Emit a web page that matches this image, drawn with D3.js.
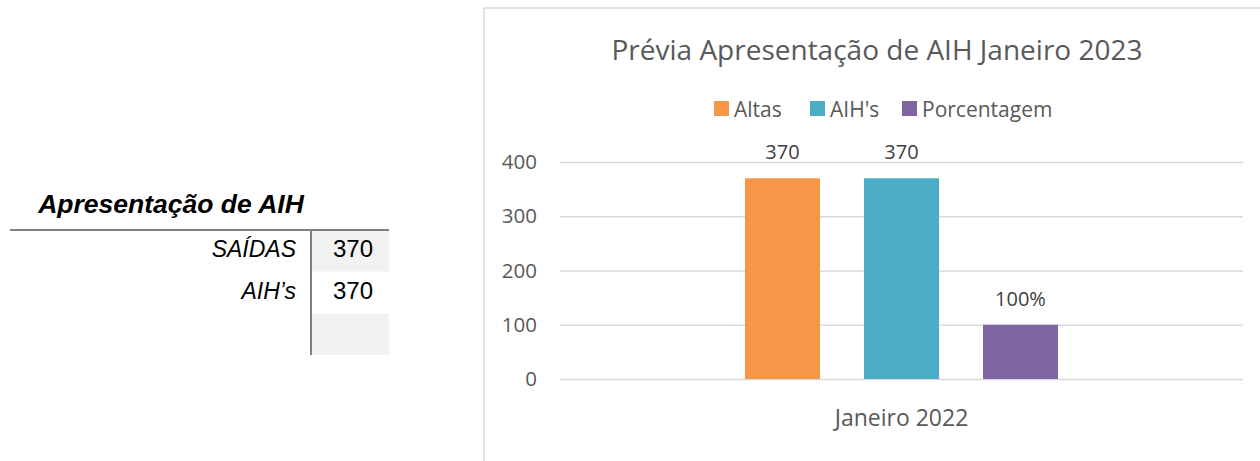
<!DOCTYPE html>
<html>
<head>
<meta charset="utf-8">
<script src="https://cdn.jsdelivr.net/npm/d3@7"></script>
<style>
  body { margin: 0; background: #fff; }
  svg { display: block; font-family: "Open Sans", sans-serif; }
</style>
</head>
<body>
<script>
//chart data
var categories = ["Janeiro 2022"];
var series = ["Altas", "AIH's", "Porcentagem"];
var values = [370, 370, 100];
var valueLabels = ["370", "370", "100%"];
var colors = ["#f79646", "#4bacc6", "#8064a2"];
var yTicks = [0, 100, 200, 300, 400];

//table data
var tableTitle = "Apresentação de AIH";
var tableRows = ["SAÍDAS", "AIH’s", ""];
var tableValues = ["370", "370", ""];

var width = 1260, height = 461;

var svg = d3.select("body").append("svg")
    .attr("width", width)
    .attr("height", height);

//---- left table ----
var tbl = svg.append("g")
    .attr("font-family", "Liberation Sans, Arial, sans-serif");

tbl.append("text")
    .attr("x", 171).attr("y", 213)
    .attr("text-anchor", "middle")
    .attr("font-size", 26.5).attr("font-weight", "bold").attr("font-style", "italic")
    .attr("fill", "#000")
    .text(tableTitle);

var rowY = d3.scaleBand().domain(d3.range(tableRows.length)).range([230, 355]);

tbl.selectAll(".cellbg")
    .data(tableRows)
    .enter().append("rect")
    .attr("x", 312).attr("width", 77)
    .attr("y", function(d, i) { return rowY(i); })
    .attr("height", rowY.bandwidth())
    .attr("fill", function(d, i) { return i % 2 == 0 ? "#f2f2f2" : "#fff"; });

tbl.selectAll(".rowlab")
    .data(tableRows)
    .enter().append("text")
    .attr("x", 296)
    .attr("y", function(d, i) { return rowY(i) + 27; })
    .attr("text-anchor", "end")
    .attr("font-size", 23).attr("font-style", "italic")
    .text(function(d) { return d; });

tbl.selectAll(".rowval")
    .data(tableValues)
    .enter().append("text")
    .attr("x", 353)
    .attr("y", function(d, i) { return rowY(i) + 27; })
    .attr("text-anchor", "middle")
    .attr("font-size", 24)
    .text(function(d) { return d; });

tbl.append("line")
    .attr("x1", 10).attr("x2", 389).attr("y1", 230).attr("y2", 230)
    .attr("stroke", "#808080").attr("stroke-width", 2);
tbl.append("line")
    .attr("x1", 311).attr("x2", 311).attr("y1", 230).attr("y2", 355)
    .attr("stroke", "#808080").attr("stroke-width", 2);

//---- chart frame ----
svg.append("rect")
    .attr("x", 484).attr("y", 8)
    .attr("width", 800).attr("height", 480)
    .attr("fill", "#fff")
    .attr("stroke", "#d9d9d9").attr("stroke-width", 1.5);

svg.append("text")
    .attr("x", 877).attr("y", 60)
    .attr("text-anchor", "middle")
    .attr("font-size", 28).attr("fill", "#595959")
    .text("Prévia Apresentação de AIH Janeiro 2023");

//legend
var legX = [714, 810, 902];
var leg = svg.selectAll(".leg")
    .data(series)
    .enter().append("g")
    .attr("transform", function(d, i) { return "translate(" + legX[i] + ",101)"; });
leg.append("rect")
    .attr("width", 15).attr("height", 15)
    .attr("fill", function(d, i) { return colors[i]; });
leg.append("text")
    .attr("x", 20).attr("y", 16)
    .attr("font-size", 21).attr("fill", "#595959")
    .text(function(d) { return d; });

//scales
var plotL = 560, plotR = 1243, plotT = 162, plotB = 379;

var y = d3.scaleLinear().domain([0, 400]).range([plotB, plotT]);

var x0 = d3.scaleBand().domain(categories).range([plotL, plotR]);
var x1 = d3.scaleBand().domain(series)
    .range([0, x0.bandwidth()])
    .paddingInner(0.37)
    .paddingOuter(1.555);

//gridlines
svg.append("g")
    .attr("transform", "translate(" + plotL + ",0)")
    .call(d3.axisLeft(y).tickValues(yTicks).tickSize(-(plotR - plotL)).tickFormat(""))
    .call(function(g) {
      g.select(".domain").remove();
      g.selectAll("line").attr("stroke", "#d9d9d9").attr("stroke-width", 1.5);
    });

//y axis labels
svg.append("g")
    .attr("transform", "translate(537,0)")
    .call(d3.axisLeft(y).tickValues(yTicks).tickSize(0).tickPadding(0))
    .call(function(g) {
      g.select(".domain").remove();
      g.selectAll("text")
        .attr("font-family", "Open Sans, sans-serif")
        .attr("font-size", 20.5).attr("fill", "#595959");
    });

//x axis labels
svg.append("g")
    .attr("transform", "translate(0," + plotB + ")")
    .call(d3.axisBottom(x0).tickSize(0).tickPadding(31))
    .call(function(g) {
      g.select(".domain").remove();
      g.selectAll("text")
        .attr("font-family", "Open Sans, sans-serif")
        .attr("font-size", 23).attr("fill", "#595959");
    });

//bars
var barG = svg.append("g")
    .attr("transform", "translate(" + x0(categories[0]) + ",0)");

barG.selectAll(".bar")
    .data(values)
    .enter().append("rect")
    .attr("x", function(d, i) { return x1(series[i]); })
    .attr("width", x1.bandwidth())
    .attr("y", function(d) { return y(d); })
    .attr("height", function(d) { return y(0) - y(d); })
    .attr("fill", function(d, i) { return colors[i]; });

barG.selectAll(".lab")
    .data(values)
    .enter().append("text")
    .attr("x", function(d, i) { return x1(series[i]) + x1.bandwidth() / 2; })
    .attr("y", function(d) { return y(d) - 19; })
    .attr("text-anchor", "middle")
    .attr("font-size", 20).attr("fill", "#404040")
    .text(function(d, i) { return valueLabels[i]; });
</script>
</body>
</html>
